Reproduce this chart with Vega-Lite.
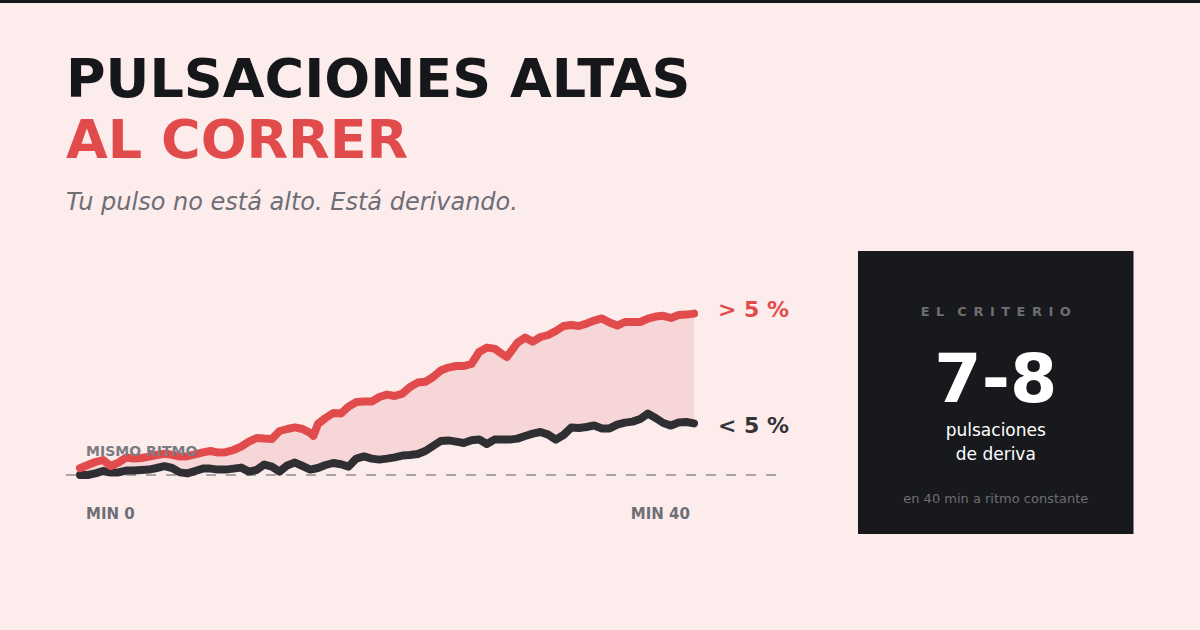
{
  "$schema": "https://vega.github.io/schema/vega-lite/v6.json",
  "width": 1200,
  "height": 630,
  "padding": 0,
  "autosize": {"type": "fit", "contains": "padding"},
  "background": "#fcecec",
  "datasets": {
    "pulso": [
      {"min": 0.0, "alta": 0.34, "baja": 0.0},
      {"min": 0.5, "alta": 0.5, "baja": 0.0},
      {"min": 1.0, "alta": 0.65, "baja": 0.08},
      {"min": 1.5, "alta": 0.75, "baja": 0.2},
      {"min": 2.0, "alta": 0.45, "baja": 0.12},
      {"min": 2.5, "alta": 0.62, "baja": 0.13},
      {"min": 3.0, "alta": 0.87, "baja": 0.22},
      {"min": 3.5, "alta": 0.83, "baja": 0.22},
      {"min": 4.0, "alta": 0.85, "baja": 0.25},
      {"min": 4.5, "alta": 0.92, "baja": 0.27},
      {"min": 5.0, "alta": 1.0, "baja": 0.35},
      {"min": 5.5, "alta": 1.06, "baja": 0.44},
      {"min": 6.0, "alta": 1.01, "baja": 0.35},
      {"min": 6.5, "alta": 0.92, "baja": 0.13},
      {"min": 7.0, "alta": 0.94, "baja": 0.08},
      {"min": 7.5, "alta": 1.03, "baja": 0.2},
      {"min": 8.0, "alta": 1.13, "baja": 0.32},
      {"min": 8.5, "alta": 1.2, "baja": 0.32},
      {"min": 9.0, "alta": 1.12, "baja": 0.27},
      {"min": 9.5, "alta": 1.14, "baja": 0.27},
      {"min": 10.0, "alta": 1.25, "baja": 0.32},
      {"min": 10.5, "alta": 1.42, "baja": 0.37},
      {"min": 11.0, "alta": 1.67, "baja": 0.17},
      {"min": 11.5, "alta": 1.85, "baja": 0.25},
      {"min": 12.0, "alta": 1.82, "baja": 0.52},
      {"min": 12.5, "alta": 1.8, "baja": 0.42},
      {"min": 13.0, "alta": 2.2, "baja": 0.17},
      {"min": 13.5, "alta": 2.3, "baja": 0.48},
      {"min": 14.0, "alta": 2.38, "baja": 0.62},
      {"min": 14.5, "alta": 2.3, "baja": 0.45},
      {"min": 15.0, "alta": 2.1, "baja": 0.27},
      {"min": 15.2, "alta": 1.95, "baja": 0.3},
      {"min": 15.5, "alta": 2.55, "baja": 0.35},
      {"min": 16.0, "alta": 2.85, "baja": 0.5},
      {"min": 16.5, "alta": 3.1, "baja": 0.6},
      {"min": 17.0, "alta": 3.08, "baja": 0.54},
      {"min": 17.5, "alta": 3.42, "baja": 0.42},
      {"min": 18.0, "alta": 3.65, "baja": 0.82},
      {"min": 18.5, "alta": 3.67, "baja": 0.93},
      {"min": 19.0, "alta": 3.67, "baja": 0.82},
      {"min": 19.5, "alta": 3.9, "baja": 0.77},
      {"min": 20.0, "alta": 4.02, "baja": 0.82},
      {"min": 20.5, "alta": 3.95, "baja": 0.88},
      {"min": 21.0, "alta": 4.07, "baja": 0.97},
      {"min": 21.5, "alta": 4.4, "baja": 1.0},
      {"min": 22.0, "alta": 4.62, "baja": 1.05},
      {"min": 22.5, "alta": 4.66, "baja": 1.2},
      {"min": 23.0, "alta": 4.9, "baja": 1.45},
      {"min": 23.5, "alta": 5.22, "baja": 1.7},
      {"min": 24.0, "alta": 5.37, "baja": 1.73},
      {"min": 24.5, "alta": 5.45, "baja": 1.67},
      {"min": 25.0, "alta": 5.45, "baja": 1.6},
      {"min": 25.5, "alta": 5.55, "baja": 1.74},
      {"min": 26.0, "alta": 6.15, "baja": 1.78},
      {"min": 26.5, "alta": 6.37, "baja": 1.55},
      {"min": 27.0, "alta": 6.32, "baja": 1.77},
      {"min": 27.5, "alta": 6.05, "baja": 1.78},
      {"min": 27.8, "alta": 5.9, "baja": 1.77},
      {"min": 28.0, "alta": 6.1, "baja": 1.77},
      {"min": 28.5, "alta": 6.62, "baja": 1.82},
      {"min": 29.0, "alta": 6.87, "baja": 1.95},
      {"min": 29.5, "alta": 6.67, "baja": 2.07},
      {"min": 30.0, "alta": 6.9, "baja": 2.15},
      {"min": 30.5, "alta": 7.0, "baja": 2.02},
      {"min": 31.0, "alta": 7.2, "baja": 1.77},
      {"min": 31.5, "alta": 7.45, "baja": 2.0},
      {"min": 32.0, "alta": 7.5, "baja": 2.37},
      {"min": 32.5, "alta": 7.45, "baja": 2.35},
      {"min": 33.0, "alta": 7.57, "baja": 2.4},
      {"min": 33.5, "alta": 7.72, "baja": 2.48},
      {"min": 34.0, "alta": 7.83, "baja": 2.33},
      {"min": 34.5, "alta": 7.62, "baja": 2.33},
      {"min": 35.0, "alta": 7.47, "baja": 2.52},
      {"min": 35.5, "alta": 7.65, "baja": 2.62},
      {"min": 36.0, "alta": 7.65, "baja": 2.67},
      {"min": 36.5, "alta": 7.65, "baja": 2.8},
      {"min": 37.0, "alta": 7.82, "baja": 3.07},
      {"min": 37.5, "alta": 7.92, "baja": 2.85},
      {"min": 38.0, "alta": 7.96, "baja": 2.6},
      {"min": 38.5, "alta": 7.85, "baja": 2.47},
      {"min": 39.0, "alta": 8.0, "baja": 2.62},
      {"min": 39.5, "alta": 8.02, "baja": 2.65},
      {"min": 40.0, "alta": 8.07, "baja": 2.58}
    ],
    "uno": [{}]
  },
  "data": {"name": "uno"},
  "layer": [
    {
      "mark": {"type": "rect", "color": "#16171b"},
      "encoding": {
        "x": {"datum": -5.212, "type": "quantitative", "scale": {"domain": [-5.212, 72.964], "nice": false, "zero": false}, "axis": null},
        "x2": {"datum": 72.964},
        "y": {"datum": 23.75, "type": "quantitative", "scale": {"domain": [-7.75, 23.75], "nice": false, "zero": false}, "axis": null},
        "y2": {"datum": 23.6}
      }
    },
    {
      "data": {"name": "pulso"},
      "mark": {"type": "area", "color": "#f6d6d6", "opacity": 1},
      "encoding": {
        "x": {"field": "min", "type": "quantitative"},
        "y": {"field": "alta", "type": "quantitative"},
        "y2": {"field": "baja"}
      }
    },
    {
      "mark": {"type": "rule", "color": "#a9a5a7", "strokeWidth": 2, "strokeDash": [10, 10]},
      "encoding": {
        "x": {"datum": -0.912, "type": "quantitative"},
        "x2": {"datum": 45.93},
        "y": {"datum": 0, "type": "quantitative"}
      }
    },
    {
      "data": {"name": "pulso"},
      "mark": {"type": "line", "color": "#2f2f33", "strokeWidth": 8, "strokeCap": "round", "strokeJoin": "round"},
      "encoding": {
        "x": {"field": "min", "type": "quantitative"},
        "y": {"field": "baja", "type": "quantitative"}
      }
    },
    {
      "data": {"name": "pulso"},
      "mark": {"type": "line", "color": "#e24b4b", "strokeWidth": 8, "strokeCap": "round", "strokeJoin": "round"},
      "encoding": {
        "x": {"field": "min", "type": "quantitative"},
        "y": {"field": "alta", "type": "quantitative"}
      }
    },
    {
      "mark": {"type": "text", "text": "PULSACIONES ALTAS", "align": "left", "baseline": "alphabetic", "font": "DejaVu Sans", "fontWeight": "bold", "fontSize": 54, "color": "#16171b"},
      "encoding": {"x": {"datum": -0.912, "type": "quantitative"}, "y": {"datum": 18.915, "type": "quantitative"}}
    },
    {
      "mark": {"type": "text", "text": "AL CORRER", "align": "left", "baseline": "alphabetic", "font": "DejaVu Sans", "fontWeight": "bold", "fontSize": 54, "color": "#e24b4b"},
      "encoding": {"x": {"datum": -0.912, "type": "quantitative"}, "y": {"datum": 15.835, "type": "quantitative"}}
    },
    {
      "mark": {"type": "text", "text": "Tu pulso no está alto. Está derivando.", "align": "left", "baseline": "alphabetic", "font": "DejaVu Sans", "fontStyle": "italic", "fontSize": 24, "color": "#6e6e76"},
      "encoding": {"x": {"datum": -0.912, "type": "quantitative"}, "y": {"datum": 13.25, "type": "quantitative"}}
    },
    {
      "mark": {"type": "text", "text": "MISMO RITMO", "align": "left", "baseline": "alphabetic", "font": "DejaVu Sans", "fontWeight": "bold", "fontSize": 14, "color": "#7c7b82"},
      "encoding": {"x": {"datum": 0.391, "type": "quantitative"}, "y": {"datum": 0.965, "type": "quantitative"}}
    },
    {
      "mark": {"type": "text", "text": "MIN 0", "align": "left", "baseline": "alphabetic", "font": "DejaVu Sans", "fontWeight": "bold", "fontSize": 15, "color": "#6e6e76"},
      "encoding": {"x": {"datum": 0.391, "type": "quantitative"}, "y": {"datum": -2.2, "type": "quantitative"}}
    },
    {
      "mark": {"type": "text", "text": "MIN 40", "align": "right", "baseline": "alphabetic", "font": "DejaVu Sans", "fontWeight": "bold", "fontSize": 15, "color": "#6e6e76"},
      "encoding": {"x": {"datum": 39.74, "type": "quantitative"}, "y": {"datum": -2.2, "type": "quantitative"}}
    },
    {
      "mark": {"type": "text", "text": "> 5 %", "align": "left", "baseline": "alphabetic", "font": "DejaVu Sans", "fontWeight": "bold", "fontSize": 22, "color": "#e24b4b"},
      "encoding": {"x": {"datum": 41.56, "type": "quantitative"}, "y": {"datum": 7.9, "type": "quantitative"}}
    },
    {
      "mark": {"type": "text", "text": "< 5 %", "align": "left", "baseline": "alphabetic", "font": "DejaVu Sans", "fontWeight": "bold", "fontSize": 22, "color": "#333338"},
      "encoding": {"x": {"datum": 41.56, "type": "quantitative"}, "y": {"datum": 2.1, "type": "quantitative"}}
    },
    {
      "mark": {"type": "rect", "color": "#18191d"},
      "encoding": {
        "x": {"datum": 50.684, "type": "quantitative"},
        "x2": {"datum": 68.632},
        "y": {"datum": 11.2, "type": "quantitative"},
        "y2": {"datum": -2.95}
      }
    },
    {
      "mark": {"type": "text", "text": "E\u2002L\u2002\u2002C\u2002R\u2002I\u2002T\u2002E\u2002R\u2002I\u2002O", "align": "center", "baseline": "alphabetic", "font": "DejaVu Sans", "fontWeight": "bold", "fontSize": 13, "color": "#6d6d74"},
      "encoding": {"x": {"datum": 59.66, "type": "quantitative"}, "y": {"datum": 7.97, "type": "quantitative"}}
    },
    {
      "mark": {"type": "text", "text": "7-8", "align": "center", "baseline": "alphabetic", "font": "DejaVu Sans", "fontWeight": "bold", "fontSize": 68, "color": "#ffffff"},
      "encoding": {"x": {"datum": 59.66, "type": "quantitative"}, "y": {"datum": 3.66, "type": "quantitative"}}
    },
    {
      "mark": {"type": "text", "text": "pulsaciones", "align": "center", "baseline": "alphabetic", "font": "DejaVu Sans", "fontSize": 17, "color": "#ffffff"},
      "encoding": {"x": {"datum": 59.66, "type": "quantitative"}, "y": {"datum": 1.97, "type": "quantitative"}}
    },
    {
      "mark": {"type": "text", "text": "de deriva", "align": "center", "baseline": "alphabetic", "font": "DejaVu Sans", "fontSize": 17, "color": "#ffffff"},
      "encoding": {"x": {"datum": 59.66, "type": "quantitative"}, "y": {"datum": 0.75, "type": "quantitative"}}
    },
    {
      "mark": {"type": "text", "text": "en 40 min a ritmo constante", "align": "center", "baseline": "alphabetic", "font": "DejaVu Sans", "fontSize": 13, "color": "#6d6d74"},
      "encoding": {"x": {"datum": 59.66, "type": "quantitative"}, "y": {"datum": -1.38, "type": "quantitative"}}
    }
  ],
  "config": {
    "view": {"stroke": null},
    "font": "DejaVu Sans"
  }
}
